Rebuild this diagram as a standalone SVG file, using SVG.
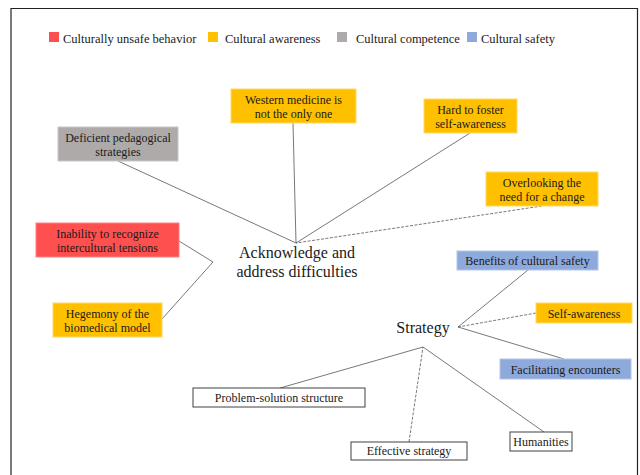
<svg xmlns="http://www.w3.org/2000/svg" width="640" height="475" viewBox="0 0 640 475" font-family="Liberation Serif">
<style>
.red{fill:#FF5050;stroke:#FF8080;stroke-width:1}
.yel{fill:#FFC000;stroke:#FFD966;stroke-width:1}
.gry{fill:#AEAAAA;stroke:#C9C6C6;stroke-width:1}
.blu{fill:#8EA9DB;stroke:#B4C6E7;stroke-width:1}
.wht{fill:#FFFFFF;stroke:#404040;stroke-width:1}
.c{stroke:#555;stroke-width:0.8;fill:none}
.d{stroke:#555;stroke-width:0.8;fill:none;stroke-dasharray:3 1.5}
</style>
<rect width="640" height="475" fill="#fff"/>
<polyline points="11,475 11,8.5 637.5,8.5 637.5,475" fill="none" stroke="#222" stroke-width="1.2"/>
<g id="legend" font-size="12.5" fill="#1a1a1a">
<rect x="49" y="32" width="10" height="10" fill="#FF5050"/>
<text font-family="Liberation Serif" x="63" y="43">Culturally unsafe behavior</text>
<rect x="208" y="32" width="10" height="10" fill="#FFC000"/>
<text font-family="Liberation Serif" x="225" y="43">Cultural awareness</text>
<rect x="337" y="32" width="10" height="10" fill="#AEAAAA"/>
<text font-family="Liberation Serif" x="356" y="43">Cultural competence</text>
<rect x="467" y="32" width="10" height="10" fill="#8EA9DB"/>
<text font-family="Liberation Serif" x="481" y="43">Cultural safety</text>
</g>
<g id="connectors">
<line class="c" x1="118" y1="161" x2="296" y2="243"/>
<line class="c" x1="293" y1="123" x2="296" y2="243"/>
<line class="c" x1="470" y1="133" x2="296" y2="243"/>
<line class="d" x1="542" y1="206" x2="296" y2="243"/>
<polyline class="c" points="179,241 213,262 162,319"/>
<line class="c" x1="528" y1="270" x2="458" y2="327"/>
<line class="d" x1="536" y1="313" x2="458" y2="327"/>
<line class="c" x1="564" y1="359" x2="458" y2="327"/>
<line class="c" x1="280" y1="388" x2="423" y2="347"/>
<line class="d" x1="409" y1="442" x2="423" y2="347"/>
<line class="c" x1="544" y1="432" x2="423" y2="347"/>
</g>
<g font-size="12" text-anchor="middle" fill="#1a1a1a">
<g id="deficient">
<rect class="gry" x="58" y="127" width="120" height="34"/>
<text font-family="Liberation Serif" x="118" y="142">Deficient pedagogical</text>
<text font-family="Liberation Serif" x="118" y="156">strategies</text>
</g>
<g id="western">
<rect class="yel" x="231" y="89" width="125" height="34"/>
<text font-family="Liberation Serif" x="293.5" y="103.5">Western medicine is</text>
<text font-family="Liberation Serif" x="293.5" y="117.5">not the only one</text>
</g>
<g id="hard">
<rect class="yel" x="424" y="99" width="93" height="34"/>
<text font-family="Liberation Serif" x="470.5" y="113.5">Hard to foster</text>
<text font-family="Liberation Serif" x="470.5" y="127.5">self-awareness</text>
</g>
<g id="overlooking">
<rect class="yel" x="486" y="172" width="112" height="34"/>
<text font-family="Liberation Serif" x="542" y="186.5">Overlooking the</text>
<text font-family="Liberation Serif" x="542" y="201">need for a change</text>
</g>
<g id="inability">
<rect class="red" x="36" y="223" width="143" height="34"/>
<text font-family="Liberation Serif" x="107.5" y="238">Inability to recognize</text>
<text font-family="Liberation Serif" x="107.5" y="252">intercultural tensions</text>
</g>
<g id="hegemony">
<rect class="yel" x="53" y="303" width="109" height="34"/>
<text font-family="Liberation Serif" x="107.5" y="318">Hegemony of the</text>
<text font-family="Liberation Serif" x="107.5" y="331.5">biomedical model</text>
</g>
<g id="acknowledge" font-size="16">
<text font-family="Liberation Serif" x="297" y="258">Acknowledge and</text>
<text font-family="Liberation Serif" x="297" y="277">address difficulties</text>
</g>
<g id="strategy" font-size="16">
<text font-family="Liberation Serif" x="423" y="333">Strategy</text>
</g>
<g id="benefits">
<rect class="blu" x="457" y="251" width="141" height="19"/>
<text font-family="Liberation Serif" x="527.5" y="265">Benefits of cultural safety</text>
</g>
<g id="selfawareness">
<rect class="yel" x="536" y="303" width="96" height="20"/>
<text font-family="Liberation Serif" x="584" y="317.5">Self-awareness</text>
</g>
<g id="facilitating">
<rect class="blu" x="500" y="359" width="131" height="20"/>
<text font-family="Liberation Serif" x="565.5" y="373.5">Facilitating encounters</text>
</g>
<g id="problem">
<rect class="wht" x="193" y="388" width="172" height="19"/>
<text font-family="Liberation Serif" x="279" y="401.5">Problem-solution structure</text>
</g>
<g id="effective">
<rect class="wht" x="351" y="442" width="116" height="18"/>
<text font-family="Liberation Serif" x="409" y="455">Effective strategy</text>
</g>
<g id="humanities">
<rect class="wht" x="510" y="432" width="62" height="19"/>
<text font-family="Liberation Serif" x="541" y="445.5">Humanities</text>
</g>
</g>
</svg>
